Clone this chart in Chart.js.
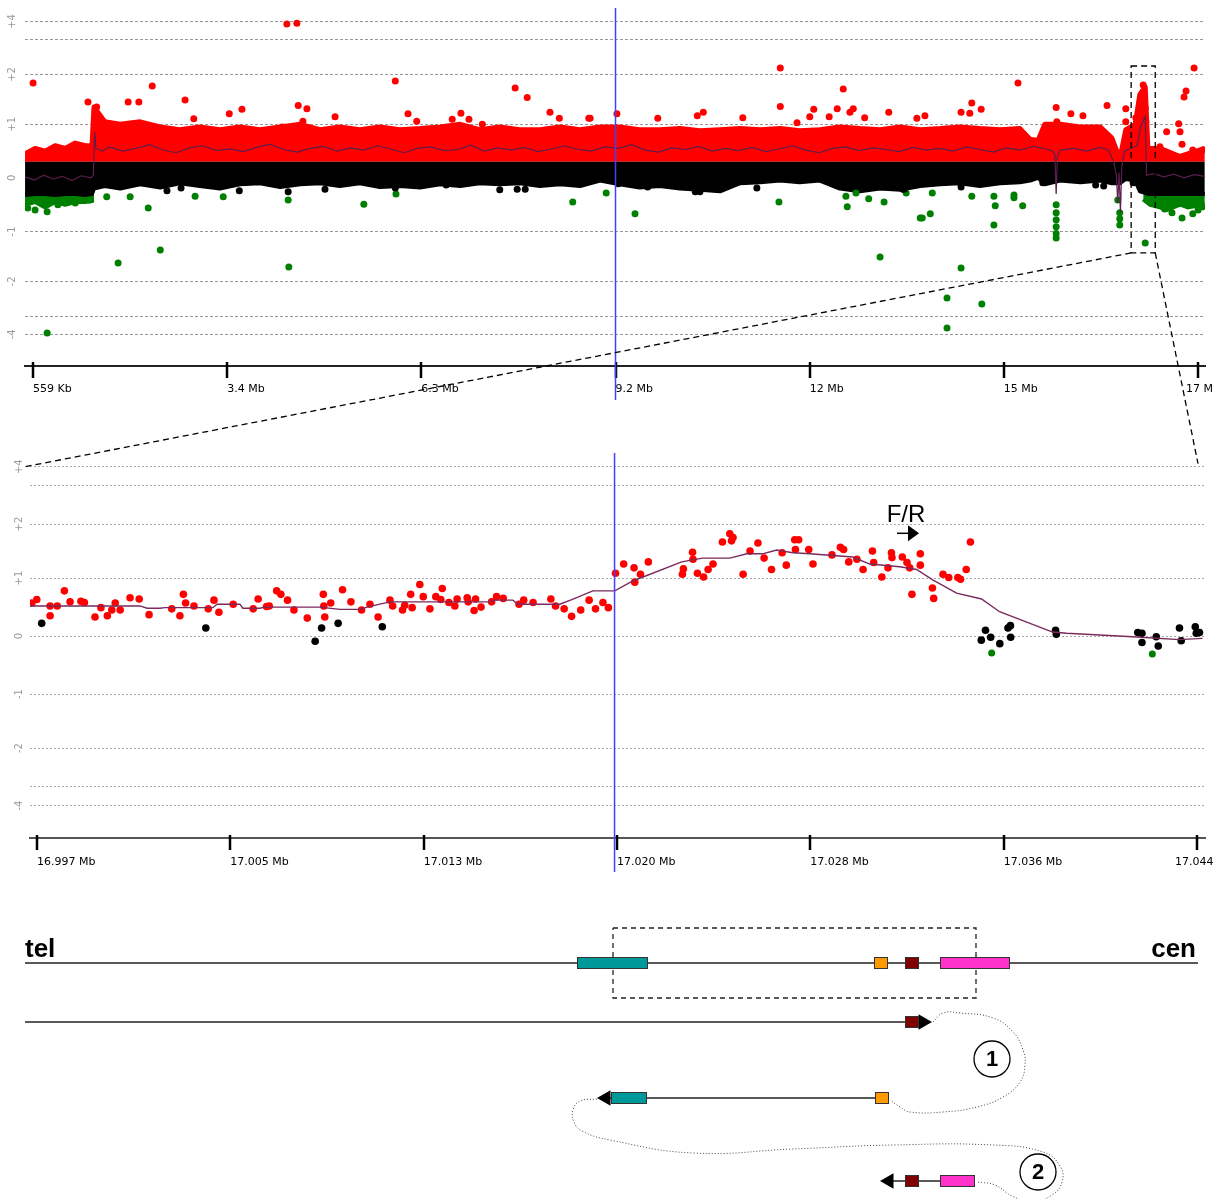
<!DOCTYPE html>
<html>
<head>
<meta charset="utf-8">
<script src="https://cdn.jsdelivr.net/npm/chart.js@4.4.0/dist/chart.umd.min.js"></script>
<style>
  body { margin: 0; background: #fff; width: 1213px; height: 1199px; position: relative; overflow: hidden; }
  canvas { position: absolute; left: 0; }
  #top { top: 0; }
  #zoom { top: 440px; }
  #map { top: 900px; }
  #overlay { top: 0; pointer-events: none; }
</style>
</head>
<body>
<canvas id="top" width="1213" height="400"></canvas>
<canvas id="zoom" width="1213" height="440"></canvas>
<canvas id="map" width="1213" height="299"></canvas>
<canvas id="overlay" width="1213" height="1199"></canvas>
<script>
// ---- axes ----
const yTickValues = [4, 3, 2, 1, 0, -1, -2, -3, -4];
const yTickLabels = ['+4', '', '+2', '+1', '0', '-1', '-2', '', '-4'];
const topTicks = [0.559, 3.459, 6.359, 9.259, 12.159, 15.059, 17.959];
const topTickLabels = ['559 Kb', '3.4 Mb', '6.3 Mb', '9.2 Mb', '12 Mb', '15 Mb', '17 Mb'];
const zoomTicks = [16.997, 17.00483, 17.01267, 17.0205, 17.02833, 17.03617, 17.044];
const zoomTickLabels = ['16.997 Mb', '17.005 Mb', '17.013 Mb', '17.020 Mb', '17.028 Mb', '17.036 Mb', '17.044 Mb'];

// ---- whole chromosome: dense cloud envelopes (Mb, log ratio) ----
const bandX = [0.44, 0.59, 0.74, 0.89, 1.04, 1.19, 1.34, 1.44, 1.47, 1.63, 1.86, 2.16, 2.46, 2.75, 3.05, 3.35,
  3.65, 3.95, 4.25, 4.55, 4.85, 5.14, 5.44, 5.74, 6.04, 6.34, 6.64, 6.94, 7.23, 7.53, 7.83, 8.13, 8.43, 8.73,
  9.03, 9.32, 9.62, 9.92, 10.22, 10.52, 10.82, 11.12, 11.42, 11.72, 12.01, 12.31, 12.61, 12.91, 13.21, 13.51,
  13.81, 14.11, 14.40, 14.70, 15.00, 15.30, 15.45, 15.57, 15.67, 15.90, 16.20, 16.50, 16.67, 16.79, 16.88,
  17.02, 17.09, 17.17, 17.21, 17.39, 17.69, 18.06];
const redTop = [0.45, 0.55, 0.5, 0.6, 0.55, 0.65, 0.6, 0.6,
  1.35, 1.05, 1.0, 1.05, 0.95, 0.9, 0.95, 0.9, 0.95, 0.9, 0.95, 1.0,
  0.9, 0.95, 0.9, 0.95, 0.9, 0.92, 0.95, 1.0, 0.9, 0.95,
  0.9, 0.9, 0.95, 0.9, 0.95, 0.95, 0.9, 0.9, 0.92, 0.88,
  0.9, 0.92, 0.9, 0.92, 0.88, 0.9, 0.95, 0.92, 0.9, 0.95,
  0.9, 0.92, 0.95, 0.92, 0.9, 0.92, 0.72, 0.7, 1.0, 1.0,
  0.95, 0.95, 0.75, 0.35, 0.9, 1.0, 1.6, 1.75, 0.55, 0.55,
  0.4, 0.55];
const blackBottom = [-0.32, -0.3, -0.3, -0.32, -0.3, -0.3, -0.32, -0.3,
  -0.2, -0.15, -0.2, -0.12, -0.18, -0.1, -0.15, -0.2, -0.12, -0.1, -0.17, -0.12,
  -0.1, -0.15, -0.1, -0.17, -0.15, -0.18, -0.12, -0.15, -0.1, -0.12,
  -0.1, -0.15, -0.12, -0.15, -0.05, -0.12, -0.18, -0.15, -0.2, -0.22,
  -0.25, -0.1, -0.08, -0.05, -0.08, -0.05, -0.2, -0.25, -0.2, -0.22,
  -0.15, -0.12, -0.1, -0.15, -0.1, -0.08, -0.05, 0.0, -0.12, -0.05,
  -0.08, -0.05, -0.1, -0.1, -0.02, -0.05, -0.25, -0.28, -0.3, -0.3,
  -0.3, -0.3];
const greenLeftX = [0.44, 0.59, 0.74, 0.89, 1.04, 1.19, 1.34, 1.47];
const greenLeft = [-0.5, -0.45, -0.55, -0.45, -0.5, -0.45, -0.45, -0.42];
const greenRightX = [17.14, 17.24, 17.39, 17.49, 17.69, 17.81, 18.06];
const greenRight = [-0.4, -0.5, -0.55, -0.6, -0.5, -0.55, -0.5];

// ---- whole chromosome: smoothed ratio ----
const topMeanX = [0.44, 0.58, 0.72, 0.86, 1.00, 1.14, 1.28, 1.42, 1.46, 1.48, 1.50, 1.60,
  1.7, 1.9, 2.1, 2.3, 2.5, 2.7, 2.9, 3.1, 3.3, 3.5, 3.7, 3.9, 4.1, 4.3, 4.5, 4.7, 4.9, 5.1, 5.3, 5.5,
  5.7, 5.9, 6.1, 6.3, 6.5, 6.7, 6.9, 7.1, 7.3, 7.5, 7.7, 7.9, 8.1, 8.3, 8.5, 8.7, 8.9, 9.1, 9.3, 9.5,
  9.7, 9.9, 10.1, 10.3, 10.5, 10.7, 10.9, 11.1, 11.3, 11.5, 11.7, 11.9, 12.1, 12.3, 12.5, 12.7, 12.9,
  13.1, 13.3, 13.5, 13.7, 13.9, 14.1, 14.3, 14.5, 14.7, 14.9, 15.1, 15.3, 15.5, 15.7,
  15.78, 15.82, 15.84, 15.86, 15.90, 16.10, 16.30, 16.50, 16.62, 16.70, 16.74, 16.76, 16.78, 16.80,
  16.82, 16.86, 16.95, 17.05, 17.10, 17.15, 17.17, 17.19, 17.30, 17.45, 17.60, 17.75, 17.90, 18.06];
const topMean = [0.02, -0.04, 0.05, -0.02, 0.03, -0.05, 0.04, 0.00, 0.05, 0.85, 0.55, 0.50,
  0.58, 0.50, 0.55, 0.62, 0.52, 0.47, 0.56, 0.60, 0.51, 0.54,
  0.49, 0.57, 0.63, 0.53, 0.48, 0.55, 0.59, 0.50, 0.56, 0.52,
  0.60, 0.54, 0.47, 0.55, 0.58, 0.51, 0.53, 0.61, 0.50, 0.56,
  0.52, 0.57, 0.49, 0.54, 0.60, 0.53, 0.50, 0.58, 0.55, 0.62,
  0.52, 0.48, 0.56, 0.53, 0.59, 0.50, 0.55, 0.51, 0.57, 0.49,
  0.54, 0.60, 0.52, 0.47, 0.55, 0.58, 0.51, 0.56, 0.53, 0.49,
  0.57, 0.52, 0.55, 0.50, 0.58, 0.53, 0.48, 0.56, 0.52, 0.59, 0.54,
  0.50, 0.45, -0.30, 0.40, 0.52, 0.55, 0.50, 0.57, 0.52, 0.30, 0.05, -0.47, 0.10, -0.65,
  0.20, 0.50, 0.55, 0.60, 0.95, 1.10, 1.15, 0.05, 0.08, 0.02, 0.07, 0.00, 0.06, 0.03];

// ---- whole chromosome: isolated probes ----
const topRedX = [0.56, 4.35, 4.50, 2.34, 2.83, 1.38, 1.51, 1.98, 2.14, 2.96, 3.49, 3.68, 4.52, 4.28, 4.65, 5.97,
  6.16, 6.29, 6.82, 6.95, 7.07, 7.76, 7.94, 8.28, 8.42, 8.86, 4.59, 5.07, 7.27, 9.28, 11.72, 11.72, 12.22,
  12.16, 12.66, 12.57, 12.76, 12.81, 12.45, 10.57, 10.48, 13.34, 12.98, 11.16, 8.88, 9.89, 11.97, 13.76,
  15.27, 14.58, 14.42, 14.55, 14.72, 13.88, 15.84, 15.85, 16.06, 16.24, 16.60, 16.88, 16.88, 17.03, 17.90,
  17.78, 17.75, 17.49, 17.67, 17.69, 17.72, 17.88, 17.39, 18.03,
  17.14, 17.15, 17.12, 17.17, 17.11, 17.18, 17.14, 17.09, 17.17];
const topRedV = [1.83, 3.85, 3.9, 1.77, 1.49, 1.45, 1.35, 1.45, 1.45, 1.11, 1.21, 1.30, 1.38, 0.95, 1.31, 1.87,
  1.21, 1.06, 1.10, 1.22, 1.10, 1.73, 1.54, 1.24, 1.12, 1.12, 1.06, 1.15, 1.0, 1.21, 2.18, 1.36, 1.30,
  1.15, 1.71, 1.31, 1.24, 1.31, 1.15, 1.24, 1.17, 1.24, 1.13, 1.13, 1.12, 1.12, 1.03, 1.12,
  1.83, 1.43, 1.24, 1.22, 1.30, 1.17, 1.34, 1.05, 1.21, 1.17, 1.38, 1.31, 1.05, 1.13, 2.18,
  1.67, 1.55, 0.86, 1.01, 0.86, 0.63, 0.52, 0.58, 0.52,
  1.79, 1.65, 1.49, 1.33, 1.19, 1.05, 0.90, 0.75, 0.62];
const topBlackX = [4.92, 7.53, 7.79, 7.91, 6.73, 6.37, 5.97, 11.37, 10.45, 10.52, 9.30, 9.74, 13.55, 2.01, 2.56,
  2.77, 3.64, 3.89, 13.57, 14.42, 15.64, 16.43, 16.55, 16.99, 4.37, 5.98];
const topBlackV = [-0.21, -0.22, -0.21, -0.21, -0.13, -0.09, -0.19, -0.19, -0.26, -0.26, -0.11, -0.17, -0.21,
  -0.09, -0.24, -0.19, -0.24, -0.06, -0.21, -0.17, -0.09, -0.13, -0.15, -0.09, -0.26, -0.13];
const topGreenX = [0.77, 1.83, 2.46, 4.37, 4.38, 1.66, 2.01, 2.28, 2.98, 3.40, 5.50, 5.98, 8.62, 9.12, 9.55,
  11.70, 12.70, 12.72, 12.85, 13.04, 13.27, 13.21, 13.60, 13.81, 13.84, 13.96, 13.99, 14.42, 14.21, 14.73,
  14.21, 14.58, 14.91, 14.93, 14.91, 15.21, 15.21, 15.34, 15.84, 15.84, 15.84, 15.84, 15.84, 15.84, 16.76,
  16.79, 16.79, 16.79, 17.17, 17.57, 17.72, 17.88, 18.02, 17.39, 17.24, 17.46, 17.81, 17.96, 0.48, 0.77,
  0.93, 1.19, 1.41, 0.59, 0.71];
const topGreenV = [-3.92, -1.63, -1.37, -0.41, -1.71, -0.35, -0.35, -0.56, -0.34, -0.35, -0.49, -0.30, -0.45,
  -0.28, -0.67, -0.45, -0.34, -0.54, -0.28, -0.39, -0.45, -1.51, -0.28, -0.75, -0.75, -0.67, -0.28, -1.73,
  -2.47, -2.64, -3.64, -0.34, -0.34, -0.52, -0.88, -0.32, -0.37, -0.52, -0.50, -0.65, -0.78, -0.91, -1.04,
  -1.13, -0.41, -0.65, -0.76, -0.88, -1.23, -0.65, -0.75, -0.67, -0.54, -0.50, -0.42, -0.58, -0.52, -0.60,
  -0.56, -0.63, -0.50, -0.47, -0.41, -0.60, -0.45];

// ---- zoomed region (Mb, log ratio) ----
const zoomRedX = [16.99679, 16.99699, 16.99753, 16.99753, 16.99782, 16.99811, 16.99834, 16.99878, 16.99892,
  16.99935, 16.99959, 16.99985, 17.00003, 17.00017, 17.00037, 17.00077, 17.00114, 17.00154, 17.00246,
  17.00279, 17.00293, 17.00302, 17.00336, 17.00394, 17.00417, 17.00437, 17.00495, 17.00576, 17.00596,
  17.00630, 17.00641, 17.00671, 17.00688, 17.00715, 17.00741, 17.00795, 17.00860, 17.00862, 17.00866,
  17.00890, 17.00938, 17.00972, 17.01015, 17.01049, 17.01082, 17.01130, 17.01141, 17.01181, 17.01190,
  17.01214, 17.01220, 17.01251, 17.01265, 17.01292, 17.01316, 17.01336, 17.01342, 17.01369, 17.01393,
  17.01402, 17.01443, 17.01447, 17.01471, 17.01477, 17.01499, 17.01542, 17.01562, 17.01589, 17.01653,
  17.01672, 17.01710, 17.01782, 17.01801, 17.01836, 17.01866, 17.01903, 17.01937, 17.01963, 17.01993,
  17.02015, 17.02044, 17.02077, 17.02119, 17.02122, 17.02145, 17.02177, 17.02315, 17.02319, 17.02356,
  17.02358, 17.02376, 17.02401, 17.02419, 17.02439, 17.02477, 17.02507, 17.02514, 17.02520, 17.02561,
  17.02589, 17.02621, 17.02646, 17.02676, 17.02719, 17.02736, 17.02770, 17.02786, 17.02773, 17.02827,
  17.02844, 17.02921, 17.02955, 17.02968, 17.02989, 17.03022, 17.03047, 17.03085, 17.03090, 17.03123,
  17.03148, 17.03162, 17.03164, 17.03206, 17.03225, 17.03236, 17.03245, 17.03279, 17.03279, 17.03328,
  17.03333, 17.03371, 17.03394, 17.03431, 17.03442, 17.03465, 17.03482];
const zoomRedV = [0.57, 0.63, 0.52, 0.35, 0.52, 0.78, 0.59, 0.60, 0.58,
  0.33, 0.49, 0.35, 0.45, 0.57, 0.45, 0.66, 0.64, 0.37, 0.47,
  0.35, 0.72, 0.57, 0.52, 0.47, 0.62, 0.41, 0.55, 0.47, 0.64,
  0.51, 0.52, 0.78, 0.72, 0.62, 0.45, 0.31, 0.72, 0.52, 0.33,
  0.57, 0.80, 0.59, 0.45, 0.55, 0.33, 0.62, 0.52, 0.45, 0.53,
  0.72, 0.49, 0.89, 0.68, 0.47, 0.68, 0.63, 0.82, 0.58, 0.52,
  0.64, 0.66, 0.59, 0.44, 0.64, 0.50, 0.59, 0.68, 0.65, 0.55,
  0.62, 0.58, 0.64, 0.52, 0.47, 0.34, 0.45, 0.62, 0.47, 0.58,
  0.49, 1.09, 1.26, 1.19, 0.93, 1.07, 1.30, 1.07, 1.17, 1.48,
  1.35, 1.09, 1.02, 1.16, 1.26, 1.67, 1.82, 1.69, 1.75, 1.07,
  1.50, 1.65, 1.37, 1.16, 1.47, 1.24, 1.71, 1.71, 1.53, 1.53,
  1.26, 1.43, 1.57, 1.53, 1.30, 1.35, 1.16, 1.50, 1.29, 1.02,
  1.19, 1.47, 1.38, 1.39, 1.29, 1.19, 0.72, 1.45, 1.24, 0.83,
  0.65, 1.07, 1.01, 1.01, 0.98, 1.16, 1.67];
const zoomBlackX = [16.99719, 17.00384, 17.00827, 17.00853, 17.00920, 17.01099, 17.03526, 17.03543, 17.03564,
  17.03601, 17.03634, 17.03644, 17.03645, 17.03827, 17.03830, 17.04160, 17.04177, 17.04177, 17.04235,
  17.04243, 17.04329, 17.04336, 17.04393, 17.04397, 17.04410];
const zoomBlackV = [0.22, 0.14, -0.09, 0.14, 0.22, 0.16, -0.07, 0.10, -0.02,
  -0.13, 0.14, 0.18, -0.02, 0.10, 0.03, 0.06, 0.05, -0.11, -0.01,
  -0.17, 0.14, -0.08, 0.16, 0.05, 0.06];
const zoomGreenX = [17.03568, 17.04219];
const zoomGreenV = [-0.29, -0.31];
const zoomMeanX = [16.99672, 17.00117, 17.00146, 17.00198, 17.00218, 17.00413, 17.00429, 17.00522, 17.00534,
  17.00603, 17.00623, 17.00846, 17.00927, 17.01008, 17.01037, 17.01089, 17.01130, 17.01535, 17.01555,
  17.01628, 17.01648, 17.01818, 17.01867, 17.01952, 17.02041, 17.02114, 17.02312, 17.02397, 17.02507,
  17.02576, 17.02640, 17.02697, 17.02762, 17.02831, 17.03005, 17.03074, 17.03195, 17.03264, 17.03329,
  17.03426, 17.03527, 17.03600, 17.03815, 17.03872, 17.04139, 17.04329, 17.04422];
const zoomMean = [0.52, 0.52, 0.48, 0.48, 0.49, 0.49, 0.55, 0.55, 0.48, 0.48, 0.50, 0.50, 0.46, 0.46, 0.50,
  0.55, 0.59, 0.59, 0.62, 0.62, 0.55, 0.55, 0.63, 0.78, 0.78, 0.95, 1.30, 1.37, 1.37, 1.45,
  1.45, 1.52, 1.47, 1.45, 1.39, 1.26, 1.21, 1.16, 0.97, 0.74, 0.64, 0.42, 0.07, 0.05, -0.01,
  -0.06, -0.04];

const topCursor = 9.259;
const zoomCursor = 17.0204;
const zoomBox = { from: 16.96, to: 17.32, hi: 2.24, lo: -1.43 };
const frMark = { x: 17.03221, y: 1.83, label: 'F/R' };

// ---- schematic (map units) ----
const mapLines = [[25, 1198, 63], [25, 905, 122], [610, 875, 198], [893, 940, 281]];
const mapBoxes = [['teal', 577, 648, 63], ['orange', 874, 888, 63], ['maroon', 905, 919, 63], ['pink', 940, 1010, 63],
  ['maroon', 905, 919, 122], ['teal', 611, 647, 198], ['orange', 875, 889, 198],
  ['maroon', 905, 919, 281], ['pink', 940, 975, 281]];
const mapArrows = [[923, 122, 90], [606, 198, -90], [889, 281, -90]];
const mapFrame = [[613, 28], [976, 28], [976, 98], [613, 98], [613, 28]];
const loop1 = [[933, 122], [943, 113], [960, 113], [993, 118], [1013, 132], [1023, 150], [1025, 165], [1020, 182],
  [1003, 197], [977, 207], [943, 212], [910, 212], [900, 207], [890, 200]];
const loop2 = [[597, 199], [580, 201], [573, 210], [574, 222], [582, 231], [610, 240], [693, 253], [793, 249],
  [893, 245], [993, 245], [1043, 252], [1060, 266], [1062, 282], [1052, 295], [1032, 302], [1012, 296],
  [995, 285], [977, 282]];
const mapCircles = [[992, 159, '1'], [1038, 272, '2']];
const mapEnds = [['tel', 25, 57, 'left'], ['cen', 1196, 57, 'right']];
const geneColors = { teal: '#009999', orange: '#ff9900', maroon: '#7f0000', pink: '#ff33cc' };

// compressed log-ratio axis (beyond +/-1 the scale tightens)
const knotIn = [0, 1, 2, 3, 4];
const knotOut = [0, 1, 1.93, 2.59, 2.92];
function T(v) {
  const s = v < 0 ? -1 : 1, a = Math.abs(v);
  for (let i = 1; i < knotIn.length; i++) {
    if (a <= knotIn[i] || i === knotIn.length - 1) {
      return s * (knotOut[i - 1] + (a - knotIn[i - 1]) * (knotOut[i] - knotOut[i - 1]) / (knotIn[i] - knotIn[i - 1]));
    }
  }
}
const pts = (xs, vs) => xs.map((x, i) => ({ x, y: T(vs[i]) }));

const tickFont = { family: '"DejaVu Sans", Verdana, sans-serif', size: 11 };

// the last tick label is pushed left by the viewer so part of it stays on screen
function xAxis(min, max, ticks, labels, height, pad, borderColor) {
  return {
    type: 'linear', min, max,
    afterBuildTicks: s => { s.ticks = ticks.map(v => ({ value: v })); },
    afterFit: s => { s.height = height; s.paddingLeft = 0; s.paddingRight = 0; },
    grid: { display: false, drawTicks: false },
    border: { display: true, color: borderColor, width: 2 },
    ticks: {
      align: 'start', padding: pad, maxRotation: 0, autoSkip: false, color: '#000',
      font: tickFont,
      callback: (v, i) => (i === labels.length - 1 ? '' : labels[i])
    }
  };
}
function yAxis(min, max, width, pad, gridColor, dash) {
  return {
    min, max,
    afterBuildTicks: s => { s.ticks = yTickValues.map(v => ({ value: T(v) })); },
    afterFit: s => { s.width = width; s.paddingTop = 0; s.paddingBottom = 0; },
    grid: { color: gridColor, lineWidth: 1, drawTicks: false },
    border: { display: false, dash },
    ticks: {
      minRotation: 90, maxRotation: 90, crossAlign: 'center', padding: pad, autoSkip: false, color: '#999',
      font: { family: '"DejaVu Sans", Verdana, sans-serif', size: 10 },
      callback: (v, i) => yTickLabels[i]
    }
  };
}

const tickMarks = (vals, labels, up, down, pad, shift) => ({
  id: 'tickMarks',
  afterDraw(chart) {
    const s = chart.scales.x, ctx = chart.ctx;
    ctx.save();
    ctx.strokeStyle = '#000';
    ctx.lineWidth = 2.5;
    vals.forEach(v => {
      const x = Math.round(s.getPixelForValue(v));
      ctx.beginPath(); ctx.moveTo(x, s.top - up); ctx.lineTo(x, s.top + down); ctx.stroke();
    });
    const last = vals.length - 1;
    ctx.fillStyle = '#000';
    ctx.font = `${tickFont.size}px ${tickFont.family}`;
    ctx.textAlign = 'left';
    ctx.textBaseline = 'middle';
    ctx.fillText(labels[last], s.getPixelForValue(vals[last]) - shift, s.top + pad + tickFont.size * 0.6);
    ctx.restore();
  }
});
const cursor = (mb, y0, y1) => ({
  id: 'cursor',
  afterDraw(chart) {
    const x = chart.scales.x.getPixelForValue(mb), ctx = chart.ctx;
    ctx.save();
    ctx.strokeStyle = '#4040ff';
    ctx.lineWidth = 1.5;
    ctx.beginPath(); ctx.moveTo(x, y0); ctx.lineTo(x, y1); ctx.stroke();
    ctx.restore();
  }
});
const common = {
  responsive: false, animation: false, devicePixelRatio: 1,
  plugins: { legend: { display: false }, tooltip: { enabled: false } }
};
const probe = (xs, vs, color, r, order) => ({
  data: pts(xs, vs), backgroundColor: color, pointRadius: r, pointBorderWidth: 0, borderWidth: 0, order
});
const band = (xs, vs, base, color, w, order) => ({
  type: 'line', data: pts(xs, vs), borderColor: color, backgroundColor: color, borderWidth: w,
  borderJoinStyle: 'round', pointRadius: 0, fill: { value: T(base) }, order
});

// ---- whole chromosome ----
const topChart = new Chart(document.getElementById('top'), {
  type: 'scatter',
  data: {
    datasets: [
      { type: 'line', data: pts(topMeanX, topMean), borderColor: '#5b1d4d', borderWidth: 1.2, pointRadius: 0, order: 0 },
      probe(topRedX, topRedV, '#ff0000', 3.5, 1),
      probe(topBlackX, topBlackV, '#000000', 3.5, 2),
      probe(topGreenX, topGreenV, '#008000', 3.5, 3),
      band(bandX, blackBottom, 0.3, '#000000', 4, 4),
      band(greenLeftX, greenLeft, -0.3, '#008000', 4, 5),
      band(greenRightX, greenRight, -0.3, '#008000', 4, 5),
      band(bandX, redTop, 0.3, '#ff0000', 5, 6)
    ]
  },
  options: {
    ...common,
    layout: { autoPadding: false, padding: { left: 0, right: 8, top: 0, bottom: 0 } },
    scales: {
      x: xAxis(0.4395, 18.063, topTicks, topTickLabels, 34, 17, '#222'),
      y: yAxis(-3.51, 3.32, 25, 5, '#999', [3, 2])
    }
  },
  plugins: [tickMarks(topTicks, topTickLabels, 4, 12, 17, 12), cursor(topCursor, 8, 400)]
});

// ---- zoomed region ----
const frPlugin = {
  id: 'fr',
  afterDatasetsDraw(chart) {
    const { ctx, scales: { x, y } } = chart;
    const px = x.getPixelForValue(frMark.x), py = y.getPixelForValue(T(frMark.y));
    ctx.save();
    ctx.fillStyle = '#000';
    ctx.strokeStyle = '#000';
    ctx.font = '24px "Liberation Sans", Arial, sans-serif';
    ctx.textAlign = 'center';
    ctx.fillText(frMark.label, px, py - 11);
    ctx.lineWidth = 1.5;
    ctx.beginPath(); ctx.moveTo(px - 9, py); ctx.lineTo(px + 3, py); ctx.stroke();
    ctx.beginPath(); ctx.moveTo(px + 2, py - 8); ctx.lineTo(px + 13, py); ctx.lineTo(px + 2, py + 8); ctx.closePath(); ctx.fill();
    ctx.restore();
  }
};
const zoomChart = new Chart(document.getElementById('zoom'), {
  type: 'scatter',
  data: {
    datasets: [
      { type: 'line', data: pts(zoomMeanX, zoomMean), borderColor: '#7a2a5c', borderWidth: 1.4, pointRadius: 0, order: 0 },
      probe(zoomRedX, zoomRedV, '#ff0000', 3.8, 1),
      probe(zoomBlackX, zoomBlackV, '#000000', 3.8, 2),
      probe(zoomGreenX, zoomGreenV, '#008000', 3.5, 3)
    ]
  },
  options: {
    ...common,
    layout: { autoPadding: false, padding: { left: 0, right: 8, top: 0, bottom: 0 } },
    scales: {
      x: xAxis(16.996716, 17.044324, zoomTicks, zoomTickLabels, 42, 18, '#555'),
      y: yAxis(-3.48, 3.38, 30, 3, '#aaa', [2, 2])
    }
  },
  plugins: [tickMarks(zoomTicks, zoomTickLabels, 3, 12, 18, 22), frPlugin, cursor(zoomCursor, 13, 432)]
});

// ---- rearrangement schematic ----
const xy = arr => arr.map(([x, y]) => ({ x, y }));
const mapText = {
  id: 'mapText',
  afterDatasetsDraw(chart) {
    const { ctx, scales: { x, y } } = chart;
    ctx.save();
    ctx.strokeStyle = '#333';
    ctx.lineWidth = 1;
    mapBoxes.forEach(([g, a, b, row]) => {
      const x0 = x.getPixelForValue(a), x1 = x.getPixelForValue(b), yc = y.getPixelForValue(row);
      ctx.fillStyle = geneColors[g];
      ctx.fillRect(x0, yc - 6, x1 - x0, 12);
      ctx.strokeRect(x0 + 0.5, yc - 5.5, x1 - x0 - 1, 11);
    });
    ctx.fillStyle = '#000';
    ctx.font = 'bold 26px "Liberation Sans", Arial, sans-serif';
    mapEnds.forEach(([t, px, py, al]) => {
      ctx.textAlign = al;
      ctx.fillText(t, x.getPixelForValue(px), y.getPixelForValue(py));
    });
    ctx.font = 'bold 22px "Liberation Sans", Arial, sans-serif';
    ctx.textAlign = 'center';
    ctx.textBaseline = 'middle';
    mapCircles.forEach(([px, py, t]) => ctx.fillText(t, x.getPixelForValue(px), y.getPixelForValue(py) + 1));
    ctx.restore();
  }
};
const mapChart = new Chart(document.getElementById('map'), {
  type: 'scatter',
  data: {
    datasets: [
      { data: xy(mapCircles), pointStyle: 'circle', pointRadius: 18, backgroundColor: '#fff', borderColor: '#000', pointBorderWidth: 1.3, order: 0 },
      { data: xy(mapArrows), pointStyle: 'triangle', pointRadius: 9, pointRotation: mapArrows.map(a => a[2]), backgroundColor: '#000', pointBorderWidth: 0, borderWidth: 0, order: 1 },
      ...mapLines.map(([x0, x1, y]) => ({ type: 'line', data: [{ x: x0, y }, { x: x1, y }], borderColor: '#222', borderWidth: 1.6, pointRadius: 0, order: 2 })),
      { type: 'line', data: xy(mapFrame), borderColor: '#222', borderWidth: 1.3, borderDash: [5, 4], pointRadius: 0, order: 2 },
      { type: 'line', data: xy(loop1), borderColor: '#444', borderWidth: 1, borderDash: [1, 2], tension: 0.45, pointRadius: 0, order: 2 },
      { type: 'line', data: xy(loop2), borderColor: '#444', borderWidth: 1, borderDash: [1, 2], tension: 0.45, pointRadius: 0, order: 2 }
    ]
  },
  options: {
    ...common,
    layout: { autoPadding: false, padding: 0 },
    scales: {
      x: { display: false, min: 0, max: 1213 },
      y: { display: false, min: 0, max: 299, reverse: true }
    }
  },
  plugins: [mapText]
});

// ---- zoom frame and connectors across both panels ----
(function drawOverlay() {
  const ov = document.getElementById('overlay').getContext('2d');
  const tx = topChart.scales.x, ty = topChart.scales.y;
  const bx = zoomChart.scales.x, by = zoomChart.scales.y;
  const off = 440;
  const x0 = tx.getPixelForValue(zoomBox.from), x1 = tx.getPixelForValue(zoomBox.to);
  const yHi = ty.getPixelForValue(T(zoomBox.hi)), yLo = ty.getPixelForValue(T(zoomBox.lo));
  const yTarget = off + by.getPixelForValue(T(4));
  ov.strokeStyle = '#000';
  ov.lineWidth = 1.3;
  ov.setLineDash([6, 4]);
  ov.strokeRect(x0, yHi, x1 - x0, yLo - yHi);
  ov.beginPath();
  ov.moveTo(x0, yLo); ov.lineTo(zoomChart.chartArea.left - 5, yTarget);
  ov.moveTo(x1, yLo); ov.lineTo(bx.getPixelForValue(zoomTicks[zoomTicks.length - 1]) + 1, yTarget - 3);
  ov.stroke();
})();
</script>
</body>
</html>
